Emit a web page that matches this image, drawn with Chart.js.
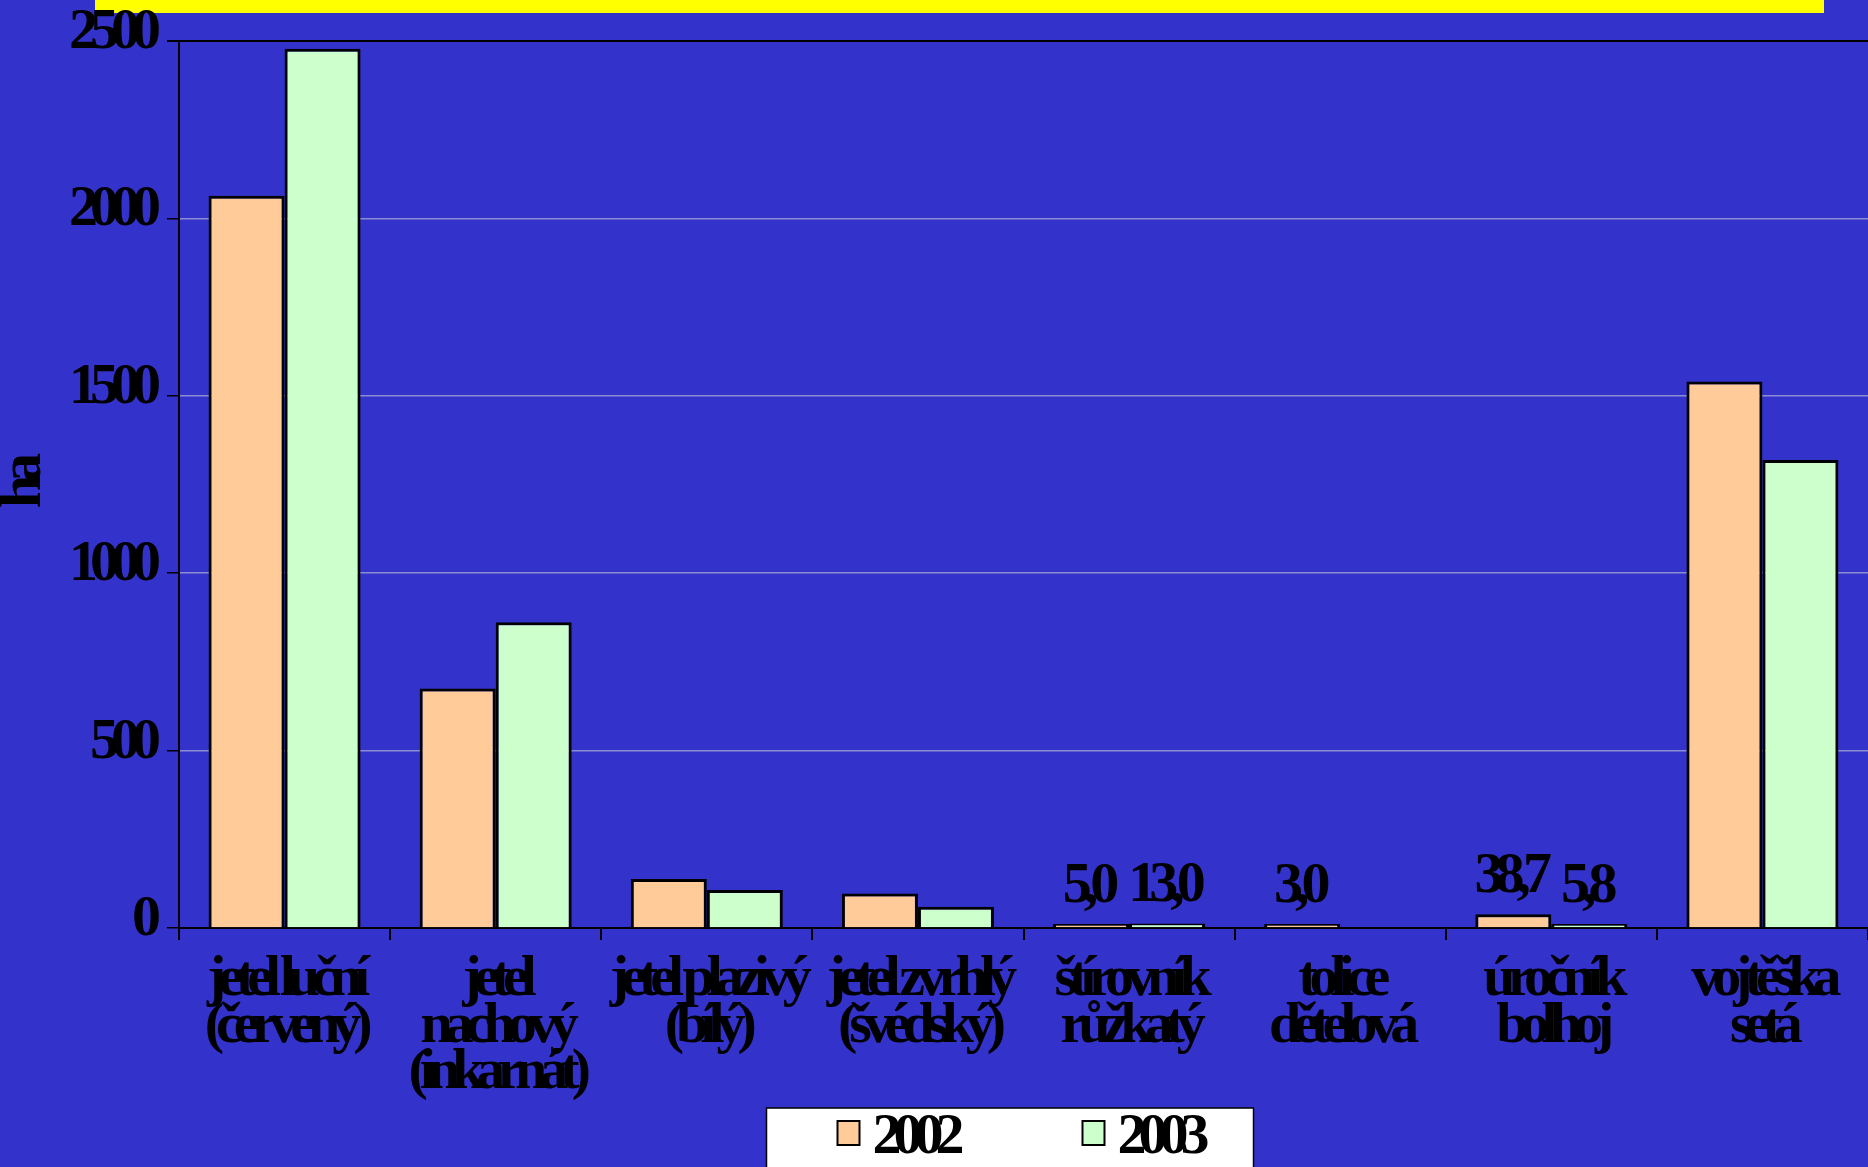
<!DOCTYPE html>
<html>
<head>
<meta charset="utf-8">
<script src="https://cdn.jsdelivr.net/npm/chart.js@4.4.1/dist/chart.umd.min.js"></script>
<style>
  html, body { margin: 0; padding: 0; background: #3333CC; overflow: hidden; }
  #wrap { width: 1868px; height: 1167px; position: relative; }
</style>
</head>
<body>
<div id="wrap"><canvas id="chart"></canvas></div>
<script>
// plodiny (ha)
const categories = [
    ['jetel luční', '(červený)'],
    ['jetel', 'nachový', '(inkarnát)'],
    ['jetel plazivý', '(bílý)'],
    ['jetel zvrhlý', '(švédský)'],
    ['štírovník', 'růžkatý'],
    ['tolice', 'dětelová'],
    ['úročník', 'bolhoj'],
    ['vojtěška', 'setá']
];
const values2002 = [2064, 675, 138, 97, 5.0, 3.0, 38.7, 1540];
const values2003 = [2478, 862, 107, 60, 13.0, null, 5.8, 1319];
const seriesLabels = ['2002', '2003'];
const yTicks = [0, 500, 1000, 1500, 2000, 2500];

const FONT = 'Liberation Serif, Times New Roman, serif';
const SPACING = '-8px';

// squeeze all text like the original
const condensed = {
    id: 'condensed',
    beforeLayout(chart) { chart.ctx.letterSpacing = SPACING; },
    beforeDraw(chart) {
        const ctx = chart.ctx;
        ctx.save();
        ctx.fillStyle = '#3333CC';
        ctx.fillRect(0, 0, chart.width, chart.height);
        ctx.fillStyle = '#FFFF00';
        ctx.fillRect(95, 0, 1729, 13);
        ctx.restore();
        ctx.letterSpacing = SPACING;
    }
};

// value labels only over the tiny bars
const smallLabels = {
    id: 'smallLabels',
    afterDatasetsDraw(chart) {
        const ctx = chart.ctx;
        ctx.save();
        ctx.font = 'bold 58px ' + FONT;
        ctx.fillStyle = '#000';
        ctx.textAlign = 'center';
        ctx.textBaseline = 'alphabetic';
        chart.data.datasets.forEach((ds, di) => {
            chart.getDatasetMeta(di).data.forEach((bar, i) => {
                const v = ds.data[i];
                if (v == null || v >= 50) return;
                ctx.fillText(v.toFixed(1).replace('.', ','), bar.x - 4, bar.y - 22);
            });
        });
        ctx.restore();
    }
};

// white legend box at the bottom
const boxLegend = {
    id: 'boxLegend',
    afterDraw(chart) {
        const ctx = chart.ctx;
        const a = chart.chartArea;
        const cx = (a.left + a.right) / 2;
        ctx.save();
        ctx.fillStyle = '#fff';
        ctx.strokeStyle = '#000';
        ctx.lineWidth = 1.5;
        ctx.fillRect(cx - 257, 1108, 487, 70);
        ctx.strokeRect(cx - 257, 1108, 487, 70);
        ctx.font = 'bold 58px ' + FONT;
        ctx.textBaseline = 'alphabetic';
        ctx.textAlign = 'left';
        const xs = [cx - 186, cx + 59];
        chart.data.datasets.forEach((ds, i) => {
            ctx.fillStyle = ds.backgroundColor;
            ctx.lineWidth = 2;
            ctx.fillRect(xs[i], 1121, 22, 24);
            ctx.strokeRect(xs[i], 1121, 22, 24);
            ctx.fillStyle = '#000';
            ctx.fillText(ds.label, xs[i] + 35, 1153);
        });
        ctx.restore();
    }
};

new Chart(document.getElementById('chart'), {
    type: 'bar',
    data: {
        labels: categories,
        datasets: [
            { label: seriesLabels[0], data: values2002, backgroundColor: '#FFCC99' },
            { label: seriesLabels[1], data: values2003, backgroundColor: '#CCFFCC' }
        ]
    },
    options: {
        responsive: true,
        maintainAspectRatio: false,
        devicePixelRatio: 1,
        animation: false,
        events: [],
        layout: { padding: { top: 41, left: 0, right: 0, bottom: 0 } },
        datasets: {
            bar: {
                borderColor: '#000',
                borderWidth: 3,
                minBarLength: 4,
                categoryPercentage: 0.72,
                barPercentage: 1.0
            }
        },
        plugins: {
            legend: { display: false },
            tooltip: { enabled: false }
        },
        scales: {
            x: {
                afterFit: s => { s.height = 239; },
                grid: { drawOnChartArea: false, color: '#000', tickLength: 12, lineWidth: 2 },
                border: { color: '#000', width: 2 },
                ticks: {
                    autoSkip: false,
                    maxRotation: 0,
                    padding: 17,
                    color: '#000',
                    font: { family: FONT, size: 58, weight: 'bold', lineHeight: 0.8 }
                }
            },
            y: {
                min: 0,
                max: 2500,
                afterFit: s => { s.width = 179; },
                afterBuildTicks: s => { s.ticks = yTicks.map(v => ({ value: v })); },
                grid: {
                    color: c => (c.tick && c.tick.value === 2500) ? '#000' : '#8C8CD2',
                    lineWidth: c => (c.tick && c.tick.value === 2500) ? 2 : 1.5,
                    tickColor: '#000',
                    tickLength: 12
                },
                border: { color: '#000', width: 2 },
                title: {
                    display: true,
                    text: 'ha',
                    color: '#000',
                    padding: 0,
                    font: { family: FONT, size: 60, weight: 'bold', lineHeight: 0.8 }
                },
                ticks: {
                    padding: 14,
                    labelOffset: -8,
                    color: '#000',
                    callback: v => String(v),
                    font: { family: FONT, size: 58, weight: 'bold', lineHeight: 0.8 }
                }
            }
        }
    },
    plugins: [condensed, smallLabels, boxLegend]
});
</script>
</body>
</html>
